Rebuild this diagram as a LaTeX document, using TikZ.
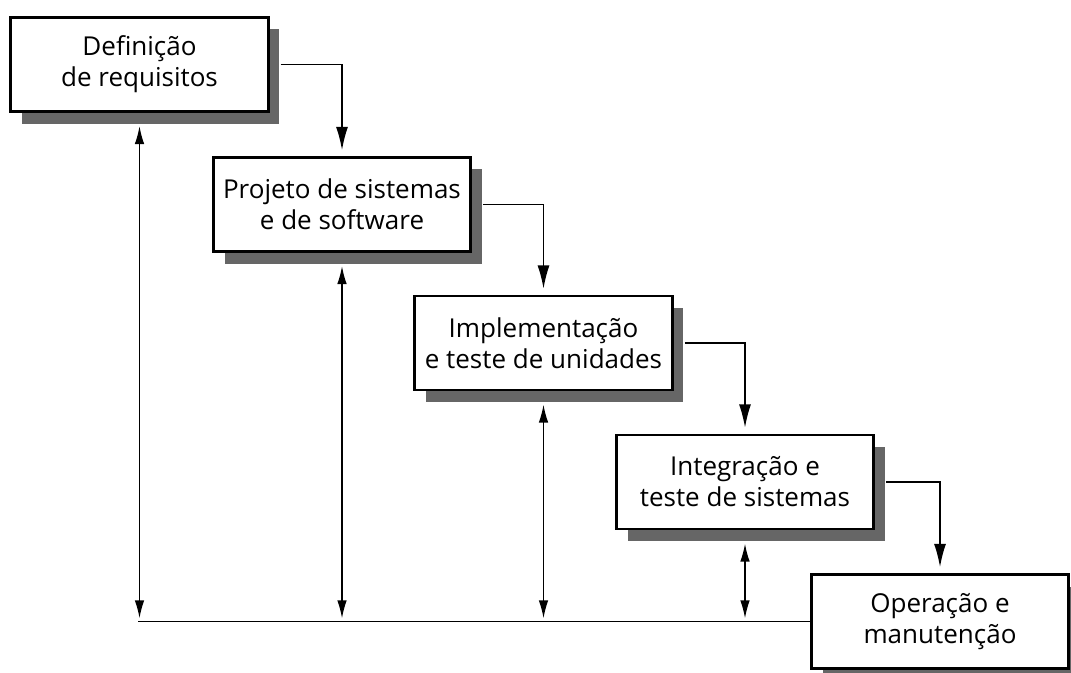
\documentclass[tikz,border=0pt]{standalone}
\usepackage{fontspec}
\setmainfont{Open Sans}
\usepackage{tikz}
\usetikzlibrary{arrows.meta, shadows}

\begin{document}
\begin{tikzpicture}[x=0.025cm, y=-0.025cm,
	etapa/.style={draw=black, line width=2pt, fill=white, minimum width=6.43cm, minimum height=2.35cm, align=center, inner sep=0pt, font=\fontsize{18.5}{22}\selectfont, drop shadow={shadow xshift=0.28cm, shadow yshift=-0.3cm, fill=black!60, opacity=1}},
	seta/.style={line width=1pt, -{Latex[length=0.58cm, width=0.3cm]}, shorten >=0.15cm},
	volta/.style={line width=1pt, {Latex[length=0.45cm, width=0.24cm]}-{Latex[length=0.45cm, width=0.24cm]}, shorten >=0.08cm}]
	\useasboundingbox (0, 0) rectangle (1071, 672);
	% \fill[white] (0, 0) rectangle (1071, 672);
	\node[etapa] (req) at (139.5, 64.5) {Definição\\de requisitos};
	\node[etapa] (proj) at (342, 204.5) {Projeto de sistemas\\e de software};
	\node[etapa] (impl) at (543.5, 343) {Implementação\\e teste de unidades};
	\node[etapa] (integ) at (745, 482) {Integração e\\teste de sistemas};
	\node[etapa] (oper) at (940, 621.5) {Operação e\\manutenção};

	\draw[seta] ([xshift=0.28cm]req.east) -| (proj.north);
	\draw[seta] ([xshift=0.28cm]proj.east) -| (impl.north);
	\draw[seta] ([xshift=0.28cm]impl.east) -| (integ.north);
	\draw[seta] ([xshift=0.28cm]integ.east) -| (oper.north);

	\coordinate (F) at (req.south |- oper.west);
	\draw[line width=1pt] (oper.west) -- ([xshift=-0.05cm]F);
	\foreach \n in {req, proj, impl, integ}
		\draw[volta] ([yshift=-0.33cm]\n.south) -- (\n.south |- F);

\end{tikzpicture}
\end{document}
